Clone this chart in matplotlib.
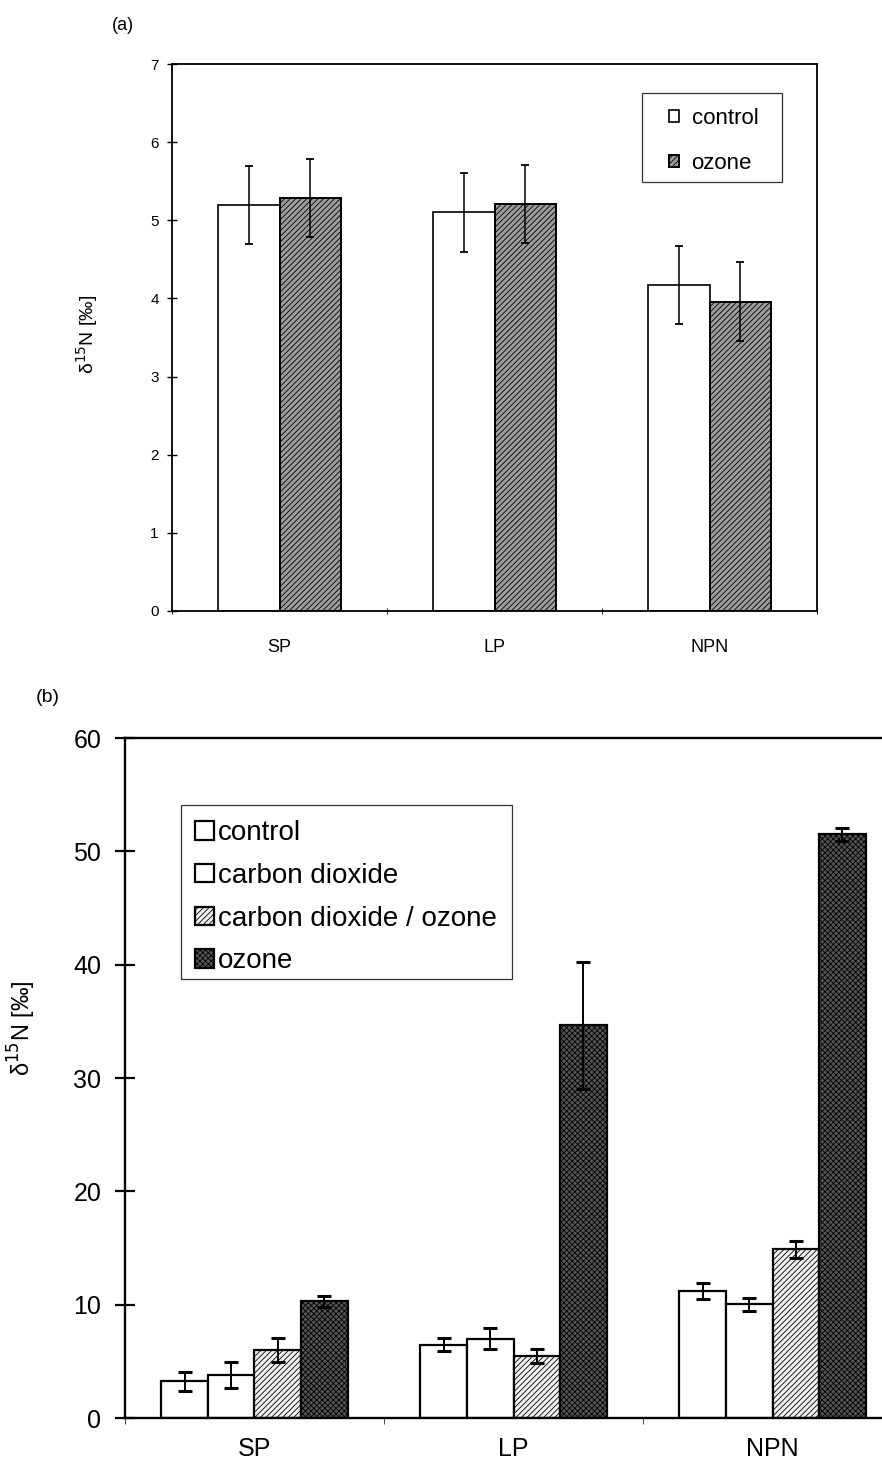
import numpy as np
import matplotlib
matplotlib.use("Agg")
import matplotlib.pyplot as plt
from matplotlib.patches import Rectangle

plt.rcParams['font.family'] = ['Liberation Sans', 'DejaVu Sans']
plt.rcParams['hatch.linewidth'] = 0.6

# ---------------- Daten ----------------
kategorien = ["SP", "LP", "NPN"]

# Panel (a)
a_control = [5.2, 5.1, 4.17]
a_control_err = [0.5, 0.5, 0.5]
a_ozone = [5.29, 5.21, 3.96]
a_ozone_err = [0.5, 0.5, 0.5]

# Panel (b)
b_namen = ["control", "carbon dioxide", "carbon dioxide / ozone", "ozone"]
b_control = [3.24, 6.47, 11.18]
b_control_err = [0.85, 0.55, 0.7]
b_co2 = [3.76, 7.0, 10.03]
b_co2_err = [1.15, 0.95, 0.58]
b_co2_o3 = [6.03, 5.44, 14.9]
b_co2_o3_err = [1.05, 0.62, 0.75]
b_ozone = [10.3, 34.65, 51.5]
b_ozone_err = [0.48, 5.6, 0.55]

ylabel = "δ$^{15}$N [‰]"

fig = plt.figure(figsize=(8.82, 14.68), dpi=100)

# ---------------- Panel (a) ----------------
ax1 = fig.add_axes([172/882, 1-611/1468, 645/882, 547/1468])
x = np.arange(len(kategorien)) + 0.5
w = 0.286
ax1.bar(x - w/2, a_control, w, color="white", edgecolor="black", linewidth=1.2,
        label="control", zorder=2)
ax1.bar(x + w/2, a_ozone, w, color="#9c9c9c", edgecolor="black", linewidth=1.4,
        hatch="//////", label="ozone", zorder=2)
ax1.errorbar(x - w/2, a_control, yerr=a_control_err, fmt="none", ecolor="black",
             elinewidth=1.1, capsize=3, capthick=1.3, zorder=3)
ax1.errorbar(x + w/2, a_ozone, yerr=a_ozone_err, fmt="none", ecolor="black",
             elinewidth=1.1, capsize=3, capthick=1.3, zorder=3)
ax1.set_xlim(0, 3)
ax1.set_ylim(0, 7)
ax1.set_yticks(range(0, 8))
ax1.set_xticks(x)
ax1.set_xticklabels(kategorien, fontsize=13)
ax1.set_xticks([0, 1, 2, 3], minor=True)
ax1.tick_params(axis="x", which="major", length=0, pad=20)
ax1.tick_params(axis="x", which="minor", length=4, direction="inout", width=0.6)
ax1.tick_params(axis="y", labelsize=11, direction="inout", length=7, width=1, pad=6)
for s in ax1.spines.values():
    s.set_linewidth(1.3)
ax1.set_ylabel(ylabel, fontsize=14)
ax1.yaxis.set_label_coords(-0.112, 0.505)
ax1.add_patch(Rectangle((0.729, 0.784), 0.946 - 0.729, 0.947 - 0.784,
                        transform=ax1.transAxes, fill=False, edgecolor="#333333",
                        linewidth=0.9, zorder=4))
ax1.legend(loc="upper left", bbox_to_anchor=(0.771, 0.920), fontsize=16,
           frameon=False, borderpad=0, borderaxespad=0,
           handlelength=0.45, handleheight=0.45, handletextpad=0.55,
           labelspacing=1.08)
fig.text(112/882, 1-26/1468, "(a)", fontsize=13, va="center")

# ---------------- Panel (b) ----------------
ax2 = fig.add_axes([125/882, 1-1418/1468, 777/882, 680/1468])
wb = 0.18
offs = np.array([-1.5, -0.5, 0.5, 1.5]) * wb
werte = [b_control, b_co2, b_co2_o3, b_ozone]
fehler = [b_control_err, b_co2_err, b_co2_o3_err, b_ozone_err]
farben = ["white", "white", "#f0f0f0", "#555555"]
muster = [None, None, "//////", "xxxxxx"]
for i in range(4):
    ax2.bar(x + offs[i], werte[i], wb, color=farben[i], edgecolor="black",
            linewidth=1.6, hatch=muster[i], label=b_namen[i], zorder=2)
    ax2.errorbar(x + offs[i], werte[i], yerr=fehler[i], fmt="none", ecolor="black",
                 elinewidth=1.4, capsize=5, capthick=2.2, zorder=3)
ax2.set_xlim(0, 3)
ax2.set_ylim(0, 60)
ax2.set_yticks(range(0, 61, 10))
ax2.set_xticks(x)
ax2.set_xticklabels(kategorien, fontsize=18)
ax2.set_xticks([0, 1, 2, 3], minor=True)
ax2.tick_params(axis="x", which="major", length=0, pad=14)
ax2.tick_params(axis="x", which="minor", length=4, direction="out", width=0.5)
ax2.tick_params(axis="y", labelsize=18, direction="inout", length=14, width=1.6, pad=10)
ax2.spines["right"].set_visible(False)
for s in ["left", "top", "bottom"]:
    ax2.spines[s].set_linewidth(1.7)
ax2.set_ylabel(ylabel, fontsize=17)
ax2.yaxis.set_label_coords(-0.112, 0.574)
ax2.add_patch(Rectangle((0.072, 0.646), 0.498 - 0.072, 0.901 - 0.646,
                        transform=ax2.transAxes, fill=False, edgecolor="#333333",
                        linewidth=0.9, zorder=4))
ax2.legend(loc="upper left", bbox_to_anchor=(0.0907, 0.879), fontsize=20,
           frameon=False, borderpad=0, borderaxespad=0,
           handlelength=0.65, handleheight=0.65, handletextpad=0.15,
           labelspacing=0.6)
fig.text(36/882, 1-697/1468, "(b)", fontsize=14, va="center")

fig.savefig("out.png", dpi=100)
